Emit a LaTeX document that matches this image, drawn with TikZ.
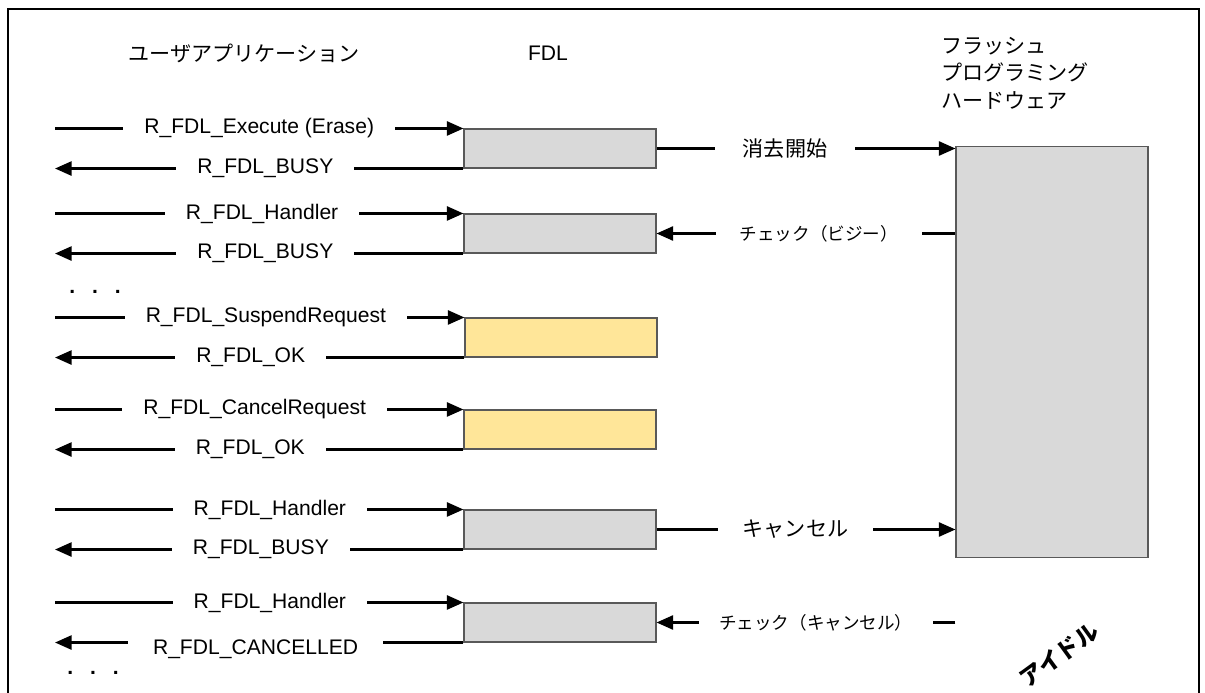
\documentclass[tikz,border=0pt]{standalone}
\usepackage{fontspec}
\setmainfont{Liberation Sans}
\newfontfamily\jpfont{Noto Sans CJK JP}
\usetikzlibrary{arrows.meta}
\definecolor{boxgray}{HTML}{D9D9D9}
\definecolor{boxyellow}{HTML}{FFE699}

\begin{document}
\begin{tikzpicture}[
    x=0.02cm, y=-0.02cm,
    every node/.style={font=\fontsize{12}{14}\selectfont},
    fdlbox/.style={draw=black!65, line width=0.6pt, fill=boxgray,
      minimum width=3.84cm, minimum height=0.78cm, inner sep=0pt},
    susbox/.style={fdlbox, fill=boxyellow},
    msg/.style={line width=1.5pt, -{Triangle[length=9.5pt,width=8pt]}},
    lbl/.style={fill=white, inner xsep=12pt, inner ysep=1pt},
    jplbl/.style={lbl, font=\jpfont\fontsize{12}{14}\selectfont},
    chklbl/.style={lbl, font=\jpfont\fontsize{10}{12}\selectfont}
]
  \useasboundingbox (0,0) rectangle (1205,693);
  \draw[line width=1.5pt] (8,693) -- (8,9) -- (1199,9) -- (1199,693);

  \node (app) at (244,53) {\jpfont ユーザアプリケーション};
  \node (fdl) at (548,53) {FDL};
  \node[anchor=north west, align=left, inner sep=0pt,
    font=\jpfont\fontsize{12}{15.6}\selectfont] (flash) at (941,37)
    {フラッシュ\\プログラミング\\ハードウェア};
  \coordinate (lft) at (55,0);

  \node[fdlbox] (b1) at (560,148.5) {};
  \node[fdlbox] (b2) at (560,233.5) {};
  \node[susbox] (b3) at (561,337.5) {};
  \node[susbox] (b4) at (560,429.5) {};
  \node[fdlbox] (b5) at (560,529.5) {};
  \node[fdlbox] (b6) at (560,622.5) {};
  \node[fdlbox, minimum height=8.24cm] (hw) at (1052,352) {};

  \draw[msg] 
    (b1.north west -| lft) 
    -- node[lbl, pos=.5] {R\_FDL\_Execute (Erase)} 
    (b1.north west)
  ;
  \draw[msg] 
    (b1.south west) 
    -- node[lbl, pos=.485] {R\_FDL\_BUSY} 
    (b1.south west -| lft)
  ;
  \draw[msg] 
    (b2.north west -| lft) 
    -- node[lbl, pos=.507] {R\_FDL\_Handler} 
    (b2.north west)
  ;
  \draw[msg] 
    (b2.south west) 
    -- node[lbl, pos=.485] {R\_FDL\_BUSY} 
    (b2.south west -| lft)
  ;
  \node[anchor=base west, inner sep=0pt] (more1) at (69,293.5)
    {\bfseries .\hspace{0.8em}.\hspace{0.8em}.};
  \draw[msg] 
    (b3.north west -| lft) 
    -- node[lbl, pos=.515] {R\_FDL\_SuspendRequest} 
    (b3.north west)
  ;
  \draw[msg] 
    (b3.south west) 
    -- node[lbl, pos=.522] {R\_FDL\_OK} 
    (b3.south west -| lft)
  ;
  \draw[msg] 
    (b4.north west -| lft) 
    -- node[lbl, pos=.489] {R\_FDL\_CancelRequest} 
    (b4.north west)
  ;
  \draw[msg] 
    (b4.south west) 
    -- node[lbl, pos=.522] {R\_FDL\_OK} 
    (b4.south west -| lft)
  ;
  \draw[msg] 
    (b5.north west -| lft) 
    -- node[lbl, pos=.526] {R\_FDL\_Handler} 
    (b5.north west)
  ;
  \draw[msg] 
    (b5.south west) 
    -- node[lbl, pos=.496] {R\_FDL\_BUSY} 
    (b5.south west -| lft)
  ;
  \draw[msg] 
    (b6.north west -| lft) 
    -- node[lbl, pos=.526] {R\_FDL\_Handler} 
    (b6.north west)
  ;
  \draw[msg] 
    (b6.south west) 
    -- node[lbl, pos=.509, yshift=-0.14cm, inner xsep=14pt] {R\_FDL\_CANCELLED} 
    (b6.south west -| lft)
  ;
  \node[anchor=base west, inner sep=0pt] (more2) at (67,674.5)
    {\bfseries .\hspace{0.8em}.\hspace{0.8em}.};

  \draw[msg] 
    (b1.east) 
    -- node[jplbl, pos=.43, inner xsep=16pt] {消去開始} 
    (b1.east -| hw.west)
  ;
  \draw[msg] 
    (b2.east -| hw.west) 
    -- node[chklbl, pos=.457, inner xsep=13.5pt] {チェック（ビジー）} 
    (b2.east)
  ;
  \draw[msg] 
    (b5.east) 
    -- node[jplbl, pos=.465, inner xsep=14pt] {キャンセル} 
    (b5.east -| hw.west)
  ;
  \draw[msg] 
    (b6.east -| hw.west) 
    -- node[chklbl, pos=.467, inner xsep=11.4pt] {チェック（キャンセル）} 
    (b6.east)
  ;

  \node[rotate=36, font=\jpfont\bfseries\fontsize{13}{15}\selectfont]
    (idle) at (1059,655) {アイドル};
\end{tikzpicture}
\end{document}
